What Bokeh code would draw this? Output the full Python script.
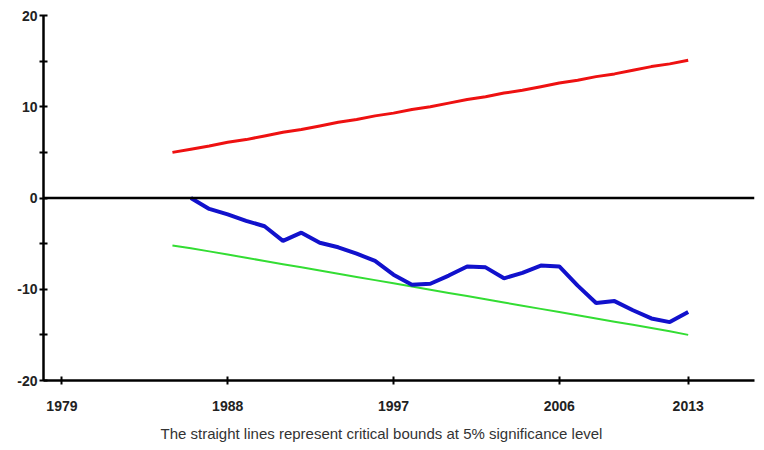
from bokeh.plotting import figure
from bokeh.models import Span, Title, FixedTicker, Range1d
from bokeh.embed import file_html
from bokeh.resources import INLINE

# Data
bound_years = list(range(1985, 2014))
upper_bound = [5.0, 5.35, 5.7, 6.1, 6.4, 6.8, 7.2, 7.5, 7.9, 8.3, 8.6, 9.0, 9.3, 9.7,
               10.0, 10.4, 10.8, 11.1, 11.5, 11.8, 12.2, 12.6, 12.9, 13.3, 13.6, 14.0,
               14.4, 14.7, 15.1]
lower_bound = [-5.2, -5.5, -5.85, -6.2, -6.55, -6.9, -7.25, -7.6, -7.95, -8.3, -8.65,
               -9.0, -9.35, -9.7, -10.05, -10.4, -10.75, -11.1, -11.45, -11.8, -12.15,
               -12.5, -12.85, -13.2, -13.55, -13.9, -14.25, -14.6, -15.0]
cusum_years = list(range(1986, 2014))
cusum = [0.0, -1.2, -1.8, -2.5, -3.1, -4.7, -3.8, -4.9, -5.4, -6.1, -6.9, -8.4, -9.5,
         -9.4, -8.5, -7.5, -7.6, -8.8, -8.2, -7.4, -7.5, -9.6, -11.5, -11.3, -12.3,
         -13.2, -13.6, -12.5]
x_ticks = [1979, 1988, 1997, 2006, 2013]
y_ticks = [-20, -10, 0, 10, 20]
y_tick_labels = ["-20", "-10", "0", "10", "20"]
caption = "The straight lines represent critical bounds at 5% significance level"

TICK_FONT = "Liberation Sans"

p = figure(width=756, height=442, output_backend="svg", toolbar_location=None,
           x_range=Range1d(1978, 2016.6), y_range=Range1d(-20, 20),
           min_border_left=43, min_border_right=2, min_border_top=15, min_border_bottom=62)
p.frame_width = 711
p.frame_height = 365
p.outline_line_color = None
p.grid.visible = False
p.background_fill_color = "white"

p.line(bound_years, upper_bound, line_color="#ee1111", line_width=3)
p.line(bound_years, lower_bound, line_color="#33dd33", line_width=2)
p.line(cusum_years, cusum, line_color="#1111cc", line_width=4)

p.add_layout(Span(location=0, dimension="width", line_color="black", line_width=2.5))

for ax in (p.xaxis[0], p.yaxis[0]):
    ax.axis_line_color = "black"
    ax.axis_line_width = 2.5
    ax.major_tick_line_color = "black"
    ax.major_tick_line_width = 2
    ax.major_tick_in = 4
    ax.major_tick_out = 4
    ax.minor_tick_line_color = "black"
    ax.minor_tick_line_width = 2
    ax.minor_tick_in = 4
    ax.minor_tick_out = 4
    ax.major_label_text_font = TICK_FONT
    ax.major_label_text_font_style = "bold"
    ax.major_label_text_font_size = "14px"
    ax.major_label_text_color = "#222222"

p.xaxis.ticker = FixedTicker(ticks=x_ticks)
p.xaxis.major_label_standoff = 16
p.yaxis.ticker = FixedTicker(ticks=y_ticks, minor_ticks=[-15, -5, 5, 15])
p.yaxis.major_label_overrides = {t: s for t, s in zip(y_ticks, y_tick_labels)}
p.yaxis.major_label_standoff = 2

p.add_layout(Title(text=caption, align="left", offset=117, text_font=TICK_FONT,
                   text_font_size="15px", text_font_style="normal",
                   text_color="#333333", standoff=19), "below")

open("out.html", "w").write(file_html(p, INLINE))
